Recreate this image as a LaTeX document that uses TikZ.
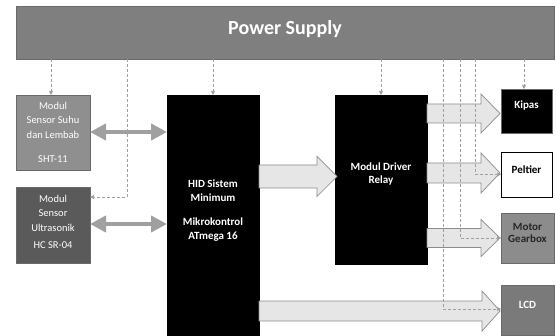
\documentclass[tikz,border=0pt]{standalone}
\usepackage{fontspec}
\setmainfont{Carlito}
\usetikzlibrary{arrows.meta,calc}
\definecolor{psgray}{HTML}{7F7F7F}
\definecolor{shtgray}{HTML}{8F8F8F}
\definecolor{usgray}{HTML}{5A5A5A}
\definecolor{motgray}{HTML}{8C8C8C}
\definecolor{lcdgray}{HTML}{7A7A7A}
\definecolor{edgegray}{HTML}{6A6A6A}
\definecolor{arrfill}{HTML}{E6E6E6}
\definecolor{arredge}{HTML}{8C8C8C}
\definecolor{dblgray}{HTML}{A0A0A0}
\definecolor{dashgray}{HTML}{A0A0A0}
\definecolor{darktext}{HTML}{262626}
\tikzset{
  box/.style={draw=edgegray, line width=0.6pt, inner sep=0pt, outer sep=0pt, anchor=north west},
  txt/.style={align=center, inner sep=0pt, font=\fontsize{10.5}{14.5}\selectfont},
  btxt/.style={align=center, inner sep=0pt, font=\bfseries\fontsize{11}{14.5}\selectfont},
  blockarr/.style={fill=arrfill, draw=arredge, line width=0.7pt, line join=miter},
  dbl/.style={draw=dblgray, line width=4pt, {Triangle[length=16pt,width=16pt]}-{Triangle[length=16pt,width=16pt]}},
  dsh/.style={draw=dashgray, line width=0.7pt, dash pattern=on 3pt off 2pt, -{Triangle[length=4pt,width=4pt]}}
}
% block arrow: #1 start point, #2 tip point (same y), #3 shaft half, #4 head half, #5 head length
\newcommand{\blockarrow}[5]{%
  \draw[blockarr] let \p1=(#1), \p2=(#2) in
    (\x1,\y2+#3) -- (\x2-#5,\y2+#3) -- (\x2-#5,\y2+#4) -- (\x2,\y2)
    -- (\x2-#5,\y2-#4) -- (\x2-#5,\y2-#3) -- (\x1,\y2-#3) -- cycle;}
\begin{document}
\begin{tikzpicture}[x=1pt,y=-1pt]
\clip (0,0) rectangle (556,336);
\fill[white] (0,0) rectangle (556,336);

% Power supply
\node[box, fill=psgray, minimum width=538pt, minimum height=53pt] (ps) at (16,6) {};
\node[btxt, text=white, font=\bfseries\fontsize{20}{24}\selectfont] (pstext) at (285,29) {Power Supply};

% Sensors
\node[box, fill=shtgray, minimum width=74pt, minimum height=75pt] (sht) at (16,95) {};
\node[txt, text=white] (shttext) at (53,132.5) {Modul\\Sensor Suhu\\dan Lembab\\[10pt]SHT-11};
\node[box, fill=usgray, minimum width=74pt, minimum height=76pt] (us) at (16,187) {};
\node[txt, text=white] (ustext) at (53,221.5) {Modul\\Sensor\\Ultrasonik\\[2.5pt]HC SR-04};

% Microcontroller
\node[box, draw=black, fill=black, minimum width=92pt, minimum height=250pt] (hid) at (167,95) {};
\node[btxt, text=white] (hidtext) at (213,210.5) {HID Sistem\\Minimum\\[9pt]Mikrokontrol\\ATmega 16};

% Relay
\node[box, draw=black, fill=black, minimum width=92pt, minimum height=169pt] (relay) at (335,95) {};
\node[btxt, text=white, font=\bfseries\fontsize{11}{12.5}\selectfont] (relaytext) at (381,174) {Modul Driver\\Relay};

% Outputs
\node[box, draw=edgegray, fill=black, minimum width=51pt, minimum height=44pt] (kipas) at (501,89) {};
\node[btxt, text=white] (kipastext) at (526.5,106) {Kipas};
\node[box, draw=black, fill=white, minimum width=51pt, minimum height=45pt] (peltier) at (501,152) {};
\node[btxt, text=black] (peltiertext) at (526.5,170) {Peltier};
\node[box, fill=motgray, minimum width=53pt, minimum height=50pt] (motor) at (501,213) {};
\node[btxt, text=darktext, font=\bfseries\fontsize{11}{12.5}\selectfont] (motortext) at (527.5,233) {Motor\\Gearbox};
\node[box, fill=lcdgray, minimum width=53pt, minimum height=50pt] (lcd) at (501,285) {};
\node[btxt, text=white] (lcdtext) at (527.5,305) {LCD};

% Block arrows
\blockarrow{hid.east}{$(relay.west |- 0,176.5)+(2,0)$}{11.5pt}{20pt}{20pt}
\blockarrow{relay.east}{$(kipas.west |- 0,113.5)+(-1,0)$}{9.5pt}{19.5pt}{19pt}
\blockarrow{relay.east}{$(peltier.west |- 0,173)+(-1,0)$}{10pt}{20pt}{19pt}
\blockarrow{relay.east}{$(motor.west |- 0,238)+(-1,0)$}{9.5pt}{18.5pt}{19pt}
\blockarrow{hid.east}{$(lcd.west |- 0,311)+(-1,0)$}{10pt}{20pt}{18pt}

% Double arrows
\draw[dbl] (sht.east |- 0,132) -- (hid.west |- 0,132);
\draw[dbl] (us.east |- 0,224) -- (hid.west |- 0,224);

% Dashed supply lines
\draw[dsh] (ps.south -| 51,0) -- (sht.north -| 51,0);
\draw[dsh] (ps.south -| 127,0) |- (us.east |- 0,197);
\draw[dsh] (ps.south -| hid.north) -- (hid.north);
\draw[dsh] (ps.south -| relay.north) -- (relay.north);
\draw[dsh] (ps.south -| 524,0) -- (kipas.north -| 524,0);
\draw[dsh] (ps.south -| 475,0) |- (peltier.west);
\draw[dsh] (ps.south -| 460,0) |- (motor.west);
\draw[dsh] (ps.south -| 443,0) |- (lcd.west |- 0,309);
\end{tikzpicture}
\end{document}
